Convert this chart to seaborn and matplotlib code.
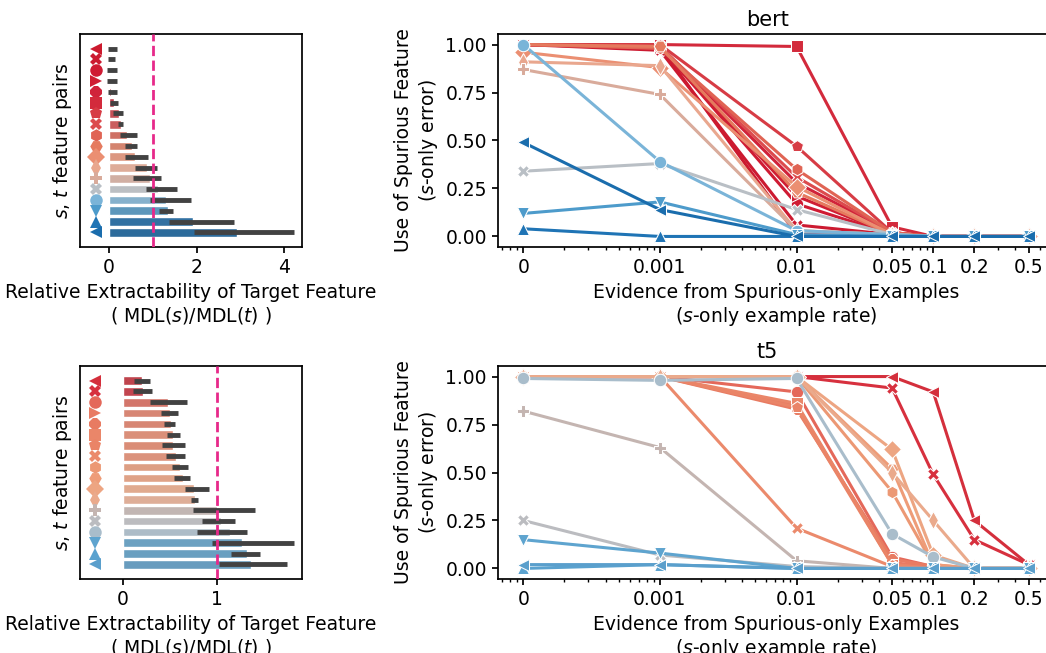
import matplotlib
matplotlib.use("Agg")
import matplotlib.pyplot as plt
import numpy as np
import pandas as pd
import seaborn as sns

# s-only example rates (0 is drawn at 1e-4 on the log axis)
rates = [0, 0.001, 0.01, 0.05, 0.1, 0.2, 0.5]
rate_labels = ["0", "0.001", "0.01", "0.05", "0.1", "0.2", "0.5"]

# feature pairs, ordered top to bottom in the bar charts
pairs = [f"pair{i}" for i in range(18)]
markers = ["<", "X", "o", ">", "8", "s", "p", "X", "h", "H",
           "D", "d", "P", "X", "o", "v", "^", "<"]

bert_colors = ["#cc1a2e", "#cc1a30", "#cf1b33", "#cf1e33", "#d0233a", "#d32a3c",
               "#d73c45", "#dc4b4d", "#e06454", "#e57a5e", "#eb8f72", "#e9a78e",
               "#d9ab9b", "#b9bfc5", "#7ab4d8", "#4d9bcb", "#1f74b5", "#1a6dad"]
t5_colors = ["#d42f3c", "#d7303e", "#e4685a", "#e87b63", "#e87b62", "#ea8669",
             "#ea8467", "#eb8a6c", "#ec9874", "#ee9c78", "#eda582", "#eaaa8c",
             "#c4b5b1", "#bbbcc0", "#a9bdcb", "#5ea4cf", "#5aa2cf", "#5a9fcc"]

# relative extractability MDL(s)/MDL(t) with CI bounds
bert_mdl = [0.02, 0.02, 0.02, 0.03, 0.05, 0.12, 0.22, 0.27, 0.40, 0.52,
            0.59, 0.86, 0.93, 1.12, 1.29, 1.34, 1.91, 2.92]
bert_lo = [-0.02, -0.02, -0.05, -0.05, -0.02, 0.02, 0.10, 0.20, 0.25, 0.36,
           0.37, 0.59, 0.54, 0.84, 0.93, 1.13, 1.36, 1.94]
bert_hi = [0.18, 0.14, 0.18, 0.18, 0.18, 0.21, 0.33, 0.33, 0.63, 0.65,
           0.88, 1.10, 1.18, 1.54, 1.86, 1.47, 2.85, 4.21]

t5_mdl = [0.20, 0.21, 0.48, 0.50, 0.51, 0.53, 0.53, 0.56, 0.61, 0.64,
          0.76, 0.77, 1.00, 1.05, 1.14, 1.27, 1.32, 1.37]
t5_lo = [0.12, 0.11, 0.29, 0.41, 0.44, 0.47, 0.42, 0.46, 0.52, 0.54,
         0.66, 0.72, 0.75, 0.84, 0.79, 0.95, 1.15, 1.02]
t5_hi = [0.29, 0.31, 0.68, 0.59, 0.55, 0.61, 0.66, 0.66, 0.69, 0.71,
         0.92, 0.80, 1.41, 1.20, 1.32, 1.82, 1.46, 1.75]

# s-only error per pair at each rate
bert_err = [
    [1.00, 0.99, 0.01, 0.00, 0, 0, 0],
    [1.00, 0.97, 0.06, 0.01, 0, 0, 0],
    [1.00, 0.99, 0.17, 0.01, 0, 0, 0],
    [1.00, 0.98, 0.21, 0.01, 0, 0, 0],
    [1.00, 0.99, 0.28, 0.02, 0, 0, 0],
    [1.00, 1.00, 0.99, 0.05, 0, 0, 0],
    [1.00, 1.00, 0.47, 0.02, 0, 0, 0],
    [1.00, 0.99, 0.31, 0.02, 0, 0, 0],
    [1.00, 0.98, 0.35, 0.02, 0, 0, 0],
    [1.00, 0.99, 0.23, 0.01, 0, 0, 0],
    [0.96, 0.88, 0.26, 0.01, 0, 0, 0],
    [0.91, 0.89, 0.03, 0.01, 0, 0, 0],
    [0.87, 0.74, 0.03, 0.01, 0, 0, 0],
    [0.34, 0.38, 0.14, 0.01, 0, 0, 0],
    [1.00, 0.39, 0.03, 0.01, 0, 0, 0],
    [0.12, 0.18, 0.01, 0.00, 0, 0, 0],
    [0.04, 0.00, 0.00, 0.00, 0, 0, 0],
    [0.49, 0.14, 0.00, 0.00, 0, 0, 0],
]
t5_err = [
    [1.00, 1.00, 1.00, 1.00, 0.92, 0.25, 0.02],
    [1.00, 1.00, 1.00, 0.94, 0.49, 0.15, 0.02],
    [1.00, 1.00, 0.92, 0.06, 0.01, 0, 0],
    [1.00, 1.00, 0.85, 0.03, 0.01, 0, 0],
    [1.00, 1.00, 0.83, 0.05, 0.01, 0, 0],
    [1.00, 1.00, 0.86, 0.02, 0.00, 0, 0],
    [1.00, 1.00, 0.84, 0.02, 0.00, 0, 0],
    [1.00, 1.00, 0.21, 0.01, 0.00, 0, 0],
    [1.00, 1.00, 1.00, 0.40, 0.02, 0, 0],
    [1.00, 1.00, 1.00, 0.52, 0.02, 0, 0],
    [1.00, 1.00, 1.00, 0.62, 0.07, 0, 0],
    [1.00, 1.00, 1.00, 0.50, 0.25, 0, 0],
    [0.82, 0.63, 0.04, 0.00, 0, 0, 0],
    [0.25, 0.07, 0.01, 0.00, 0, 0, 0],
    [0.99, 0.98, 0.99, 0.18, 0.06, 0, 0],
    [0.15, 0.08, 0.00, 0.00, 0, 0, 0],
    [0.00, 0.02, 0.00, 0.00, 0, 0, 0],
    [0.02, 0.02, 0.00, 0.00, 0, 0, 0],
]

ZERO_POS = 1e-4

sns.set_theme(style="ticks")
plt.rcParams.update({
    "font.family": ["DejaVu Sans"],
    "font.size": 13.5,
    "axes.labelsize": 13.5,
    "xtick.labelsize": 13.5,
    "ytick.labelsize": 13.5,
    "axes.titlesize": 15,
    "axes.linewidth": 1.25,
    "axes.edgecolor": "black",
    "text.color": "black",
    "axes.labelcolor": "black",
    "xtick.color": "black",
    "ytick.color": "black",
    "xtick.major.size": 4.5,
    "ytick.major.size": 4.5,
    "xtick.minor.size": 2.5,
})

fig = plt.figure(figsize=(10.46, 6.53), dpi=100)


def bar_panel(ax, mdl, lo, hi, colors, xlim, xticks):
    y = np.arange(len(pairs))
    sns.barplot(x=mdl, y=pairs, hue=pairs, palette=colors, legend=False,
                orient="h", ax=ax, width=0.8)
    ax.hlines(y, lo, hi, color=".26", lw=3.5, zorder=3)
    for i in range(len(pairs)):
        ax.plot(-0.3, i, marker=markers[i], color=colors[i], ms=9, ls="",
                mew=0, zorder=4)
    ax.axvline(1, color="#e7298a", ls="--", lw=2, zorder=5)
    ax.set_xlim(*xlim)
    ax.set_ylim(len(pairs) - 1 + 1.35, -1.35)
    ax.set_xticks(xticks)
    ax.set_yticks([])
    ax.set_ylabel("$s$, $t$ feature pairs")
    ax.set_xlabel("Relative Extractability of Target Feature\n( MDL($s$)/MDL($t$) )")


def line_panel(ax, err, colors, title):
    rows = []
    for i, p in enumerate(pairs):
        for r, v in zip(rates, err[i]):
            rows.append({"pair": p, "rate": r if r > 0 else ZERO_POS, "err": v})
    df = pd.DataFrame(rows)
    sns.lineplot(data=df, x="rate", y="err", hue="pair", style="pair",
                 hue_order=pairs, style_order=pairs,
                 palette=dict(zip(pairs, colors)),
                 markers=dict(zip(pairs, markers)), dashes=False,
                 lw=2.2, ms=9, legend=False, ax=ax)
    ax.set_xscale("log")
    ax.set_xticks([r if r > 0 else ZERO_POS for r in rates], rate_labels)
    ax.set_xlim(10 ** -4.185, 0.5 * 10 ** 0.185)
    ax.set_ylim(-0.055, 1.055)
    ax.set_yticks([0, 0.25, 0.5, 0.75, 1.0])
    ax.set_yticklabels(["0.00", "0.25", "0.50", "0.75", "1.00"])
    ax.set_title(title, x=0.485)
    ax.set_xlabel("Evidence from Spurious-only Examples\n($s$-only example rate)")
    ax.set_ylabel("Use of Spurious Feature\n($s$-only error)")


W, H = 1046, 653
ax1 = fig.add_axes([80 / W, 1 - 247 / H, 222 / W, 213 / H])
ax2 = fig.add_axes([498 / W, 1 - 247 / H, 556 / W, 213 / H])
ax3 = fig.add_axes([80 / W, 1 - 579 / H, 222 / W, 213 / H])
ax4 = fig.add_axes([498 / W, 1 - 579 / H, 556 / W, 213 / H])

bar_panel(ax1, bert_mdl, bert_lo, bert_hi, bert_colors, (-0.66, 4.40), [0, 2, 4])
line_panel(ax2, bert_err, bert_colors, "bert")
bar_panel(ax3, t5_mdl, t5_lo, t5_hi, t5_colors, (-0.46, 1.91), [0, 1])
line_panel(ax4, t5_err, t5_colors, "t5")

fig.savefig("out.png", dpi=100)
